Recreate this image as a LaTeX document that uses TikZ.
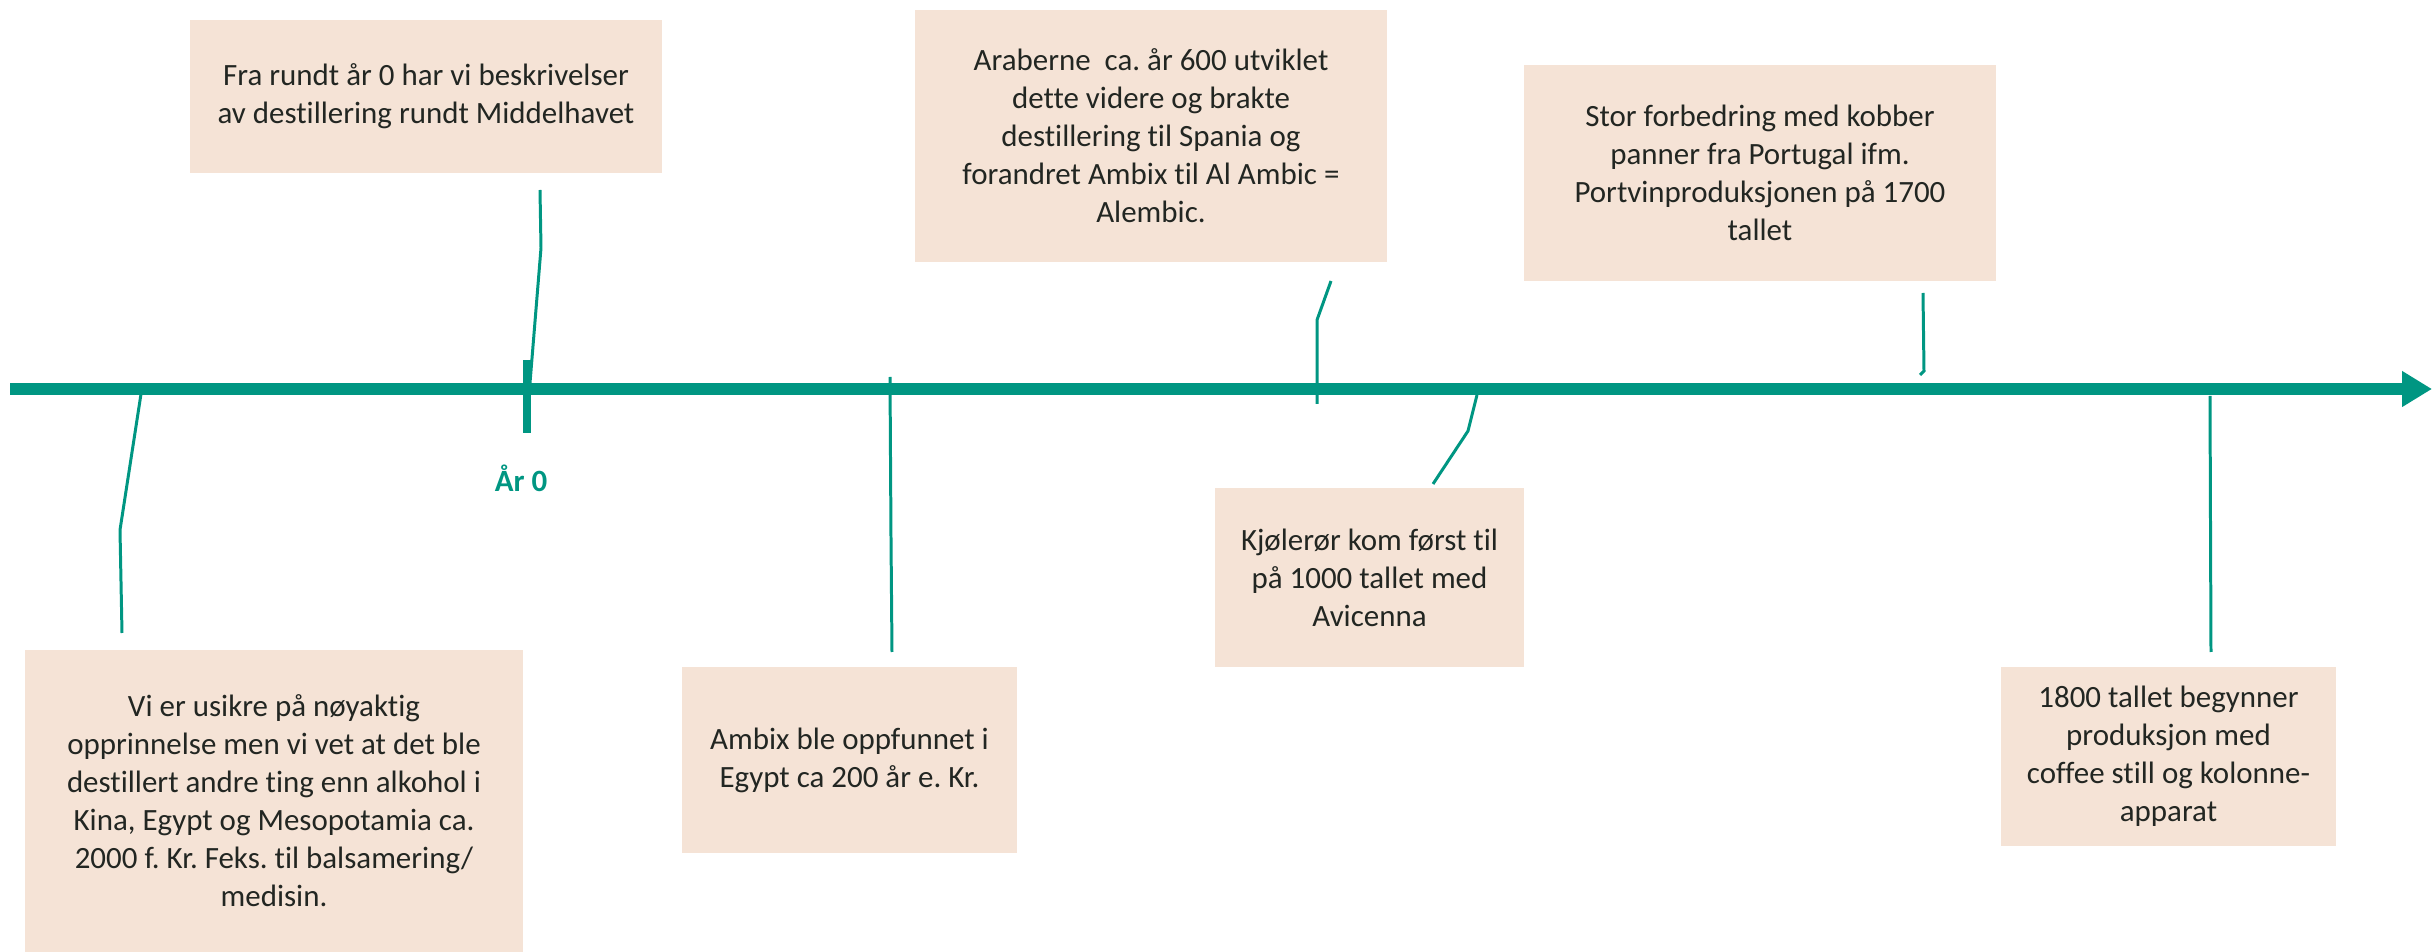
\documentclass[tikz,border=0pt]{standalone}
\usepackage{fontspec}
\setmainfont{Carlito}[Ligatures=NoCommon, RawFeature=-liga]
\usepackage{tikz}
\usetikzlibrary{arrows.meta}
\frenchspacing
\definecolor{tidslinje}{HTML}{009682}
\definecolor{boks}{HTML}{F5E3D6}
\definecolor{tekst}{HTML}{222622}
\tikzset{
  hendelse/.style={rectangle, fill=boks, text=tekst, align=center, inner sep=0pt,
                   font=\fontsize{8.8pt}{10.8pt}\selectfont},
  leder/.style={line width=0.85pt, draw=tidslinje},
  akse/.style={-{Triangle[length=3mm, width=3.4mm]}, line width=3.4pt, draw=tidslinje},
  merke/.style={line width=0.8mm, draw=tidslinje},
  aarstall/.style={font=\fontsize{8.8pt}{10.8pt}\selectfont\bfseries, text=tidslinje},
}

\begin{document}
\begin{tikzpicture}[x=0.01cm, y=-0.01cm]
    \useasboundingbox (0,0) rectangle (2432,952);
    \coordinate (start) at (10,389);
    \coordinate (slutt) at (2432,389);
    \draw[akse] (start) -- (slutt);
    \coordinate (null1) at (527,360);
    \coordinate (null2) at (527,433);
    \draw[merke] (null1) -- (null2);
    \node[aarstall] (aar0) at (521,478) {År 0};

    \node[hendelse, minimum width=4.72cm, minimum height=1.53cm] (b1) at (426,96.5)
      {Fra rundt år 0 har vi beskrivelser\\av destillering rundt Middelhavet};
    \node[hendelse, minimum width=4.98cm, minimum height=3.02cm] (b2) at (274,801)
      {Vi er usikre på nøyaktig\\opprinnelse men vi vet at det ble\\destillert andre ting enn alkohol i\\
       Kina, Egypt og Mesopotamia ca.\\2000 f. Kr. Feks. til balsamering/\\medisin.};
    \node[hendelse, minimum width=3.35cm, minimum height=1.86cm] (b3) at (849.5,760)
      {Ambix ble oppfunnet i\\Egypt ca 200 år e. Kr.};
    \node[hendelse, minimum width=4.72cm, minimum height=2.52cm] (b4) at (1151,136)
      {Araberne~~ca. år 600 utviklet\\dette videre og brakte\\destillering til Spania og\\
       forandret Ambix til Al Ambic =\\Alembic.};
    \node[hendelse, minimum width=3.09cm, minimum height=1.79cm] (b5) at (1369.5,577.5)
      {Kjølerør kom først til\\på 1000 tallet med\\Avicenna};
    \node[hendelse, minimum width=4.72cm, minimum height=2.16cm] (b6) at (1760,173)
      {Stor forbedring med kobber\\panner fra Portugal ifm.\\Portvinproduksjonen på 1700\\tallet};
    \node[hendelse, minimum width=3.35cm, minimum height=1.79cm] (b7) at (2168.5,756.5)
      {1800 tallet begynner\\produksjon med\\coffee still og kolonne-\\apparat};

    \coordinate (l1a) at (540,190);   \coordinate (l1b) at (530,383);
    \coordinate (l2a) at (122,633);   \coordinate (l2b) at (141,394);
    \coordinate (l3a) at (892,652);   \coordinate (l3b) at (890,377);
    \coordinate (l4a) at (1331,281);  \coordinate (l4b) at (1317,404);
    \coordinate (l5a) at (1477,395);  \coordinate (l5b) at (1433,484);
    \coordinate (l6a) at (1923,293);  \coordinate (l6b) at (1920,375);
    \coordinate (l7a) at (2210,396);  \coordinate (l7b) at (2211,652);
    \draw[leder] (l1a) -- (541,248) -- (l1b);
    \draw[leder] (l2b) -- (120,530) -- (l2a);
    \draw[leder] (l3b) -- (891,538) -- (l3a);
    \draw[leder] (l4a) -- (1317,320) -- (l4b);
    \draw[leder] (l5a) -- (1468,431) -- (l5b);
    \draw[leder] (l6a) -- (1924,371) -- (l6b);
    \draw[leder] (l7a) -- (l7b);
  \end{tikzpicture}
\end{document}
